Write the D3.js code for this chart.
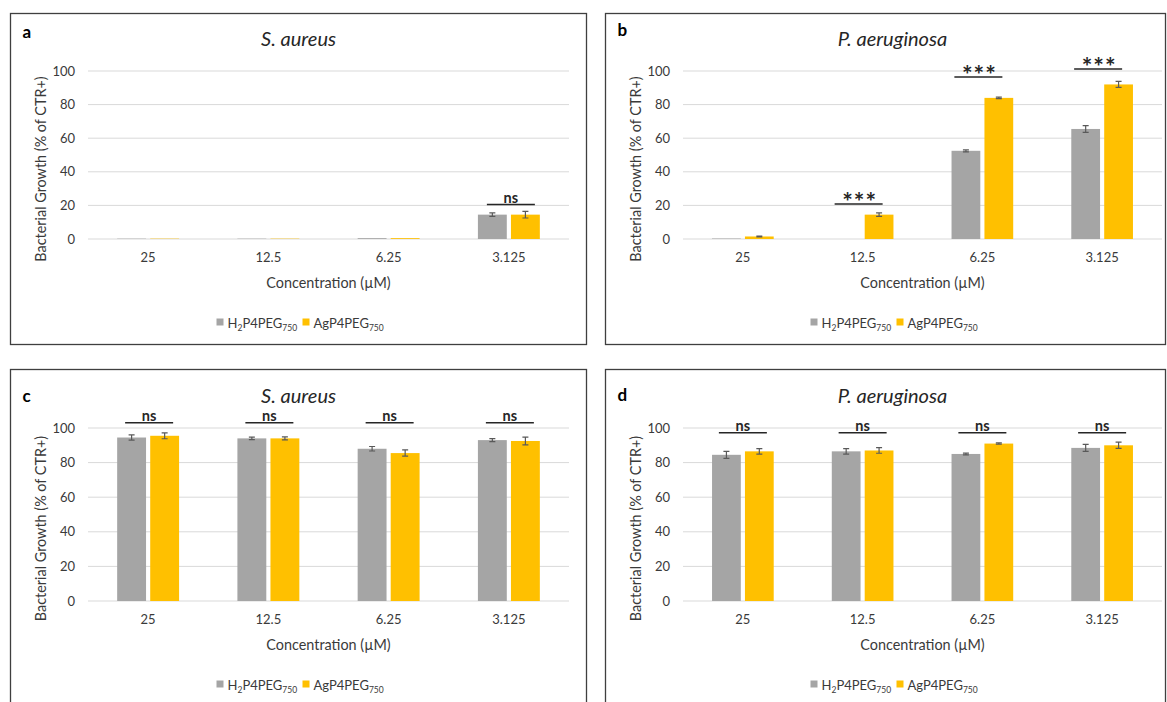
<!DOCTYPE html>
<html><head><meta charset="utf-8">
<script src="https://cdn.jsdelivr.net/npm/d3@7"></script>
<style>body{margin:0;background:#fff}svg{display:block}</style>
</head><body>
<script>
const categories = ["25", "12.5", "6.25", "3.125"];
const yTicks = [0, 20, 40, 60, 80, 100];
const seriesNames = ["H2P4PEG750", "AgP4PEG750"];

// panel a: S. aureus
const aH2 = [0.2, 0.2, 0.5, 14.5];
const aH2Err = [0, 0, 0, 1];
const aAg = [0.2, 0.2, 0.5, 14.5];
const aAgErr = [0, 0, 0, 2];
const aSig = [null, null, null, "ns"];
const aSigY = [null, null, null, 20.5];

// panel b: P. aeruginosa
const bH2 = [0.3, 0, 52.5, 65.5];
const bH2Err = [0, 0, 0.6, 2];
const bAg = [1.5, 14.5, 84, 92];
const bAgErr = [0.3, 1, 0.5, 1.8];
const bSig = [null, "***", "***", "***"];
const bSigY = [null, 20.8, 96.4, 101.2];

// panel c: S. aureus
const cH2 = [94.5, 94, 88, 93];
const cH2Err = [1.5, 0.7, 1.3, 0.9];
const cAg = [95.5, 94, 85.5, 92.5];
const cAgErr = [1.7, 0.9, 1.8, 2.2];
const cSig = ["ns", "ns", "ns", "ns"];
const cSigY = [103, 103, 103, 103];

// panel d: P. aeruginosa
const dH2 = [84.5, 86.5, 85, 88.5];
const dH2Err = [2, 1.6, 0.5, 2];
const dAg = [86.5, 87, 91, 90];
const dAgErr = [1.6, 1.6, 0.4, 1.8];
const dSig = ["ns", "ns", "ns", "ns"];
const dSigY = [97.3, 97.3, 97.3, 97.3];

const colors = ["#A5A5A5", "#FFC000"];
const FONT = "Lato, 'Open Sans', sans-serif";

const panels = [
  {letter:"a", title:"S. aureus", h2:aH2, h2e:aH2Err, ag:aAg, age:aAgErr, sig:aSig, sigY:aSigY,
   box:[10.5,13.5,576,331], x0:88, x1:569, yTop:71, yBot:239, letterY:38, sigShift:2},
  {letter:"b", title:"P. aeruginosa", h2:bH2, h2e:bH2Err, ag:bAg, age:bAgErr, sig:bSig, sigY:bSigY,
   box:[605.5,13.5,560,331], x0:683, x1:1162, yTop:71, yBot:239, letterY:36, sigShift:-4},
  {letter:"c", title:"S. aureus", h2:cH2, h2e:cH2Err, ag:cAg, age:cAgErr, sig:cSig, sigY:cSigY,
   box:[10.5,369.5,576,345], x0:88, x1:569, yTop:428, yBot:601, letterY:402, sigShift:1},
  {letter:"d", title:"P. aeruginosa", h2:dH2, h2e:dH2Err, ag:dAg, age:dAgErr, sig:dSig, sigY:dSigY,
   box:[605.5,369.5,560,345], x0:683, x1:1162, yTop:428, yBot:601, letterY:401, sigShift:0}
];

const svg = d3.select("body").append("svg").attr("width",1167).attr("height",702)
  .style("font-family", FONT);

panels.forEach(p => {
  const g = svg.append("g");
  g.append("rect").attr("x",p.box[0]).attr("y",p.box[1]).attr("width",p.box[2]).attr("height",p.box[3])
    .attr("fill","#fff").attr("stroke","#3f3f3f").attr("stroke-width",1.3);

  const x = d3.scaleBand().domain(categories).range([p.x0, p.x1]);
  const xs = d3.scaleBand().domain(seriesNames)
    .range([x.bandwidth()*0.2425, x.bandwidth()*0.7575]).paddingInner(0.126);
  const bw = xs.bandwidth();
  const y = d3.scaleLinear().domain([0,100]).range([p.yBot, p.yTop]);

  // gridlines
  g.append("g").selectAll("line").data(yTicks).join("line")
    .attr("x1",p.x0).attr("x2",p.x1).attr("y1",d=>y(d)).attr("y2",d=>y(d))
    .attr("stroke","#d9d9d9").attr("stroke-width",1);

  // y axis labels
  const ya = d3.axisLeft(y).tickValues(yTicks).tickSize(0).tickPadding(13);
  const yg = g.append("g").attr("transform",`translate(${p.x0},0)`).call(ya);
  yg.select(".domain").remove();
  yg.selectAll("text").attr("font-size",13).attr("fill","#3a3a3a").style("font-family",FONT);

  // x axis labels
  const xa = d3.axisBottom(x).tickSize(0).tickPadding(14);
  const xg = g.append("g").attr("transform",`translate(0,${p.yBot})`).call(xa);
  xg.select(".domain").remove();
  xg.selectAll("text").attr("font-size",13).attr("fill","#3a3a3a").style("font-family",FONT);

  const data = categories.map((c,i)=>({c, vals:[p.h2[i], p.ag[i]], errs:[p.h2e[i], p.age[i]], sig:p.sig[i], sigY:p.sigY[i]}));
  const bx = (c,k) => x(c) + xs(seriesNames[k]);

  data.forEach(d => {
    d.vals.forEach((v,k) => {
      g.append("rect").attr("x",bx(d.c,k)).attr("width",bw)
        .attr("y",y(v)).attr("height",y(0)-y(v)).attr("fill",colors[k]);
      const e = d.errs[k];
      if (e > 0) {
        const cx = bx(d.c,k)+bw/2;
        g.append("path").attr("d",`M${cx-3},${y(v+e)}H${cx+3}M${cx},${y(v+e)}V${y(v-e)}M${cx-3},${y(v-e)}H${cx+3}`)
          .attr("stroke","#595959").attr("stroke-width",1.2).attr("fill","none");
      }
    });
    if (d.sig) {
      const cx = x(d.c) + x.bandwidth()/2 + p.sigShift;
      const left = cx - 24, right = cx + 24;
      const ly = y(d.sigY);
      g.append("line").attr("x1",left).attr("x2",right).attr("y1",ly).attr("y2",ly)
        .attr("stroke","#262626").attr("stroke-width",1.5);
      g.append("text").attr("x",cx + (d.sig==="ns"?0:1)).attr("y", d.sig==="ns" ? ly-2 : ly+7)
        .attr("text-anchor","middle").attr("font-weight","bold")
        .attr("letter-spacing", d.sig==="ns" ? 0 : 1)
        .attr("font-size", d.sig==="ns" ? 14.5 : 25).attr("fill","#262626").text(d.sig);
    }
  });

  const cxPlot = (p.x0+p.x1)/2;
  // titles
  g.append("text").attr("x",cxPlot - 30).attr("y",p.yTop-25.5).attr("text-anchor","middle")
    .attr("font-size",20).attr("font-style","italic").attr("fill","#262626").text(p.title);
  g.append("text").attr("x",p.box[0]+12).attr("y",p.letterY).attr("font-size",17).attr("font-weight","bold")
    .attr("fill","#000").text(p.letter);

  // y axis title
  g.append("text").attr("transform",`translate(${p.x0-42},${(p.yTop+p.yBot)/2+14}) rotate(-90)`)
    .attr("text-anchor","middle").attr("font-size",14.4).attr("fill","#3a3a3a").text("Bacterial Growth (% of CTR+)");
  // x axis title
  g.append("text").attr("x",cxPlot).attr("y",p.yBot+49).attr("text-anchor","middle")
    .attr("font-size",14.4).attr("fill","#3a3a3a").text("Concentration (µM)");

  // legend
  const lx = cxPlot - 30 - 82, ly = p.yBot + 89;
  const leg = g.append("g").attr("transform",`translate(${lx},${ly})`);
  const items = [{base:"H", sub1:"2", mid:"P4PEG", sub2:"750"}, {base:"AgP4PEG", sub1:null, mid:"", sub2:"750"}];
  let off = 0;
  items.forEach((it,k) => {
    leg.append("rect").attr("x",off).attr("y",-9.5).attr("width",7).attr("height",7).attr("fill",colors[k]);
    const t = leg.append("text").attr("x",off+11).attr("y",0).attr("font-size",13).attr("fill","#3a3a3a");
    t.append("tspan").text(it.base);
    if (it.sub1) {
      t.append("tspan").attr("font-size",8.5).attr("dy",3).text(it.sub1);
      t.append("tspan").attr("dy",-3).text(it.mid);
    }
    t.append("tspan").attr("font-size",8.5).attr("dy",3).text(it.sub2);
    off += 86;
  });
});
</script>
</body></html>
